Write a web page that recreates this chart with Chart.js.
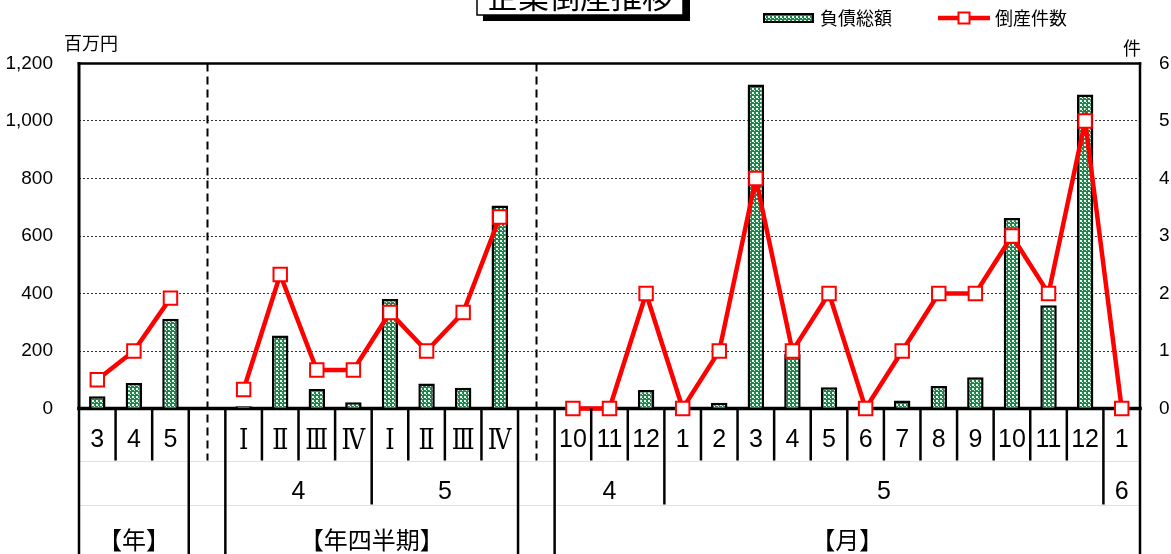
<!DOCTYPE html>
<html><head><meta charset="utf-8">
<script src="https://cdn.jsdelivr.net/npm/chart.js@4/dist/chart.umd.min.js"></script>
<style>html,body{margin:0;padding:0;background:#fff;}#wrap{width:1171px;height:554px;position:relative;}</style>
</head><body><div id="wrap"><canvas id="c" width="1171" height="554"></canvas></div>
<script>
// ---- data ----
const categories = ['3','4','5','','Ⅰ','Ⅱ','Ⅲ','Ⅳ','Ⅰ','Ⅱ','Ⅲ','Ⅳ','','10','11','12','1','2','3','4','5','6','7','8','9','10','11','12','1'];
const debtTotals = [43,89,312,null,8,254,68,22,381,87,72,706,null,0,0,64,0,20,1127,190,74,0,28,78,109,663,359,1092,0];
const bankruptcies = [0.5,1,1.92,null,0.33,2.33,0.67,0.67,1.67,1,1.67,3.33,null,0,0,2,0,1,4,1,2,0,1,2,2,3,2,5,0];
const yearLabels = ['','4','5','4','5','6'];
const yearStart = [0,4,8,13,16,28];
const yearEnd = [3,8,12,16,28,29];
const periodLabels = ['【年】','【年四半期】','【月】'];
const periodStart = [0,4,13];
const periodEnd = [3,12,29];
const gapIndexes = [3,12];
const leftTicks = [0,200,400,600,800,1000,1200];
const rightTicks = [0,1,2,3,4,5,6];
const seriesNames = ['負債総額','倒産件数'];
const titleText = '企業倒産推移';
const leftUnit = '百万円';
const rightUnit = '件';

// ---- styles ----
const CJK = '"Noto Sans CJK JP", sans-serif';
const LAT = '"Liberation Sans", Arial, sans-serif';
const ROMAN = '"DejaVu Serif", "Noto Sans CJK JP", serif';

function makePattern(){
  const p = document.createElement('canvas'); p.width = 4; p.height = 4;
  const g = p.getContext('2d');
  g.fillStyle = '#178a4a'; g.fillRect(0,0,4,4);
  g.fillStyle = '#f0f9f3'; g.fillRect(0,0,2,2); g.fillRect(2,2,1,1);
  return document.getElementById('c').getContext('2d').createPattern(p,'repeat');
}
const pattern = makePattern();

function drawRect(ctx, x, y, s){
  ctx.fillStyle = '#fff'; ctx.strokeStyle = '#ff0000'; ctx.lineWidth = 2;
  ctx.fillRect(x - s/2, y - s/2, s, s); ctx.strokeRect(x - s/2, y - s/2, s, s);
}

const decor = {
  id: 'decor',
  beforeDatasetsDraw(chart){
    const {ctx, chartArea: a, scales: {x}} = chart;
    const row1 = a.bottom + 52;
    ctx.save();
    ctx.strokeStyle = '#000'; ctx.lineWidth = 2; ctx.setLineDash([8,5]);
    gapIndexes.forEach(i => {
      const px = Math.round(x.getPixelForValue(i)) + 0.5;
      ctx.beginPath(); ctx.moveTo(px, a.top); ctx.lineTo(px, row1); ctx.stroke();
    });
    ctx.setLineDash([]);
    ctx.lineCap = 'square';
    ctx.lineWidth = 2.5;
    ctx.beginPath(); ctx.moveTo(a.left, a.top); ctx.lineTo(a.right, a.top); ctx.stroke();
    ctx.lineWidth = 3;
    ctx.beginPath(); ctx.moveTo(a.left, a.top); ctx.lineTo(a.left, a.bottom); ctx.stroke();
    ctx.lineWidth = 2.5;
    ctx.beginPath(); ctx.moveTo(a.right, a.top); ctx.lineTo(a.right, a.bottom); ctx.stroke();
    ctx.lineWidth = 3.5;
    ctx.beginPath(); ctx.moveTo(a.left, a.bottom); ctx.lineTo(a.right, a.bottom); ctx.stroke();
    ctx.restore();
  },
  afterDraw(chart){
    const {ctx, chartArea: a, scales: {x}} = chart;
    const H = chart.height;
    const edge = b => x.getPixelForValue(b - 0.5);
    const row1 = a.bottom + 52, row2 = a.bottom + 96;
    ctx.save();
    ctx.strokeStyle = '#e2e2e2'; ctx.lineWidth = 1;
    [row1, row2].forEach(y => { ctx.beginPath(); ctx.moveTo(a.left, Math.round(y)+0.5); ctx.lineTo(a.right, Math.round(y)+0.5); ctx.stroke(); });
    ctx.strokeStyle = '#000'; ctx.lineWidth = 2.5;
    for (let b = 0; b <= categories.length; b++) {
      let bottom = null;
      if (periodStart.includes(b) || periodEnd.includes(b)) bottom = H;
      else if (yearStart.includes(b) || yearEnd.includes(b)) bottom = row2;
      else if (!gapIndexes.includes(b) && !gapIndexes.includes(b - 1)) bottom = row1;
      if (bottom === null) continue;
      const px = edge(b);
      ctx.beginPath(); ctx.moveTo(px, a.bottom); ctx.lineTo(px, bottom); ctx.stroke();
    }
    ctx.fillStyle = '#000'; ctx.textAlign = 'center'; ctx.textBaseline = 'alphabetic';
    categories.forEach((lab, i) => {
      if (!lab) return;
      const px = x.getPixelForValue(i);
      if (/^[0-9]+$/.test(lab)) { ctx.font = '25px ' + LAT; ctx.fillText(lab, px, a.bottom + 38.5); }
      else {
        ctx.save(); ctx.translate(px, a.bottom + 40); ctx.scale(0.88, 1);
        ctx.font = '27px ' + ROMAN; ctx.fillText(lab, 0, 0); ctx.restore();
      }
    });
    ctx.font = '25px ' + LAT;
    yearLabels.forEach((lab, k) => {
      if (!lab) return;
      const px = (edge(yearStart[k]) + edge(yearEnd[k])) / 2;
      ctx.fillText(lab, px, a.bottom + 90.5);
    });
    ctx.font = '24px ' + CJK;
    periodLabels.forEach((lab, k) => {
      const px = (edge(periodStart[k]) + edge(periodEnd[k])) / 2;
      ctx.fillText(lab, px, a.bottom + 140);
    });
    // title box
    ctx.fillStyle = '#000'; ctx.fillRect(483, -10, 207, 31);
    ctx.fillStyle = '#fff'; ctx.fillRect(477, -10, 206, 25);
    ctx.strokeStyle = '#000'; ctx.lineWidth = 1.5; ctx.strokeRect(477, -10, 206, 25);
    ctx.fillStyle = '#000'; ctx.font = '31px ' + CJK; ctx.textAlign = 'center';
    ctx.fillText(titleText, 580, 8);
    // legend
    ctx.fillStyle = pattern; ctx.fillRect(764, 14, 49, 8);
    ctx.strokeStyle = '#000'; ctx.lineWidth = 2; ctx.strokeRect(764, 14, 49, 8);
    ctx.fillStyle = '#000'; ctx.font = '18px ' + CJK; ctx.textAlign = 'left';
    ctx.fillText(seriesNames[0], 820, 25);
    ctx.strokeStyle = '#ff0000'; ctx.lineWidth = 4.5;
    ctx.beginPath(); ctx.moveTo(938, 18); ctx.lineTo(990, 18); ctx.stroke();
    drawRect(ctx, 964, 18, 11);
    ctx.fillStyle = '#000'; ctx.fillText(seriesNames[1], 995, 25);
    // units
    ctx.font = '18px ' + CJK;
    ctx.textAlign = 'left'; ctx.fillText(leftUnit, 64, 49.5);
    ctx.textAlign = 'right'; ctx.fillText(rightUnit, 1141, 55);
    ctx.restore();
  }
};

new Chart(document.getElementById('c'), {
  data: {
    labels: categories,
    datasets: [
      { type: 'bar', label: seriesNames[0], data: debtTotals, yAxisID: 'y',
        backgroundColor: pattern, borderColor: '#000',
        borderWidth: c => (c.raw ? 2.5 : 0),
        categoryPercentage: 1, barPercentage: 0.45, order: 1 },
      { type: 'line', label: seriesNames[1], data: bankruptcies, yAxisID: 'y1',
        borderColor: '#ff0000', borderWidth: 4.5, tension: 0, spanGaps: false, clip: false,
        pointStyle: 'rect', pointRadius: 9.5, pointBackgroundColor: '#fff',
        pointBorderColor: '#ff0000', pointBorderWidth: 2, order: 0 }
    ]
  },
  options: {
    responsive: false, animation: false, devicePixelRatio: 1,
    layout: { padding: { top: 63.5, bottom: 145.5, left: 0, right: 0 } },
    plugins: { legend: { display: false }, title: { display: false }, tooltip: { enabled: false } },
    scales: {
      x: { type: 'category', display: false, offset: true, grid: { display: false } },
      y: { position: 'left', min: 0, max: 1200,
        afterBuildTicks: s => { s.ticks = leftTicks.map(v => ({ value: v })); },
        ticks: { padding: 26, color: '#000', font: { family: 'Liberation Sans', size: 19 },
          callback: v => v.toLocaleString('en-US') },
        grid: { color: '#333', lineWidth: 1, drawTicks: false },
        border: { display: false, dash: [2, 2] },
        afterFit: s => { s.width = 79; } },
      y1: { position: 'right', min: 0, max: 6,
        afterBuildTicks: s => { s.ticks = rightTicks.map(v => ({ value: v })); },
        ticks: { padding: 19, color: '#000', font: { family: 'Liberation Sans', size: 19 } },
        grid: { display: false, drawTicks: false }, border: { display: false },
        afterFit: s => { s.width = 31; } }
    }
  },
  plugins: [decor]
});
</script></body></html>
